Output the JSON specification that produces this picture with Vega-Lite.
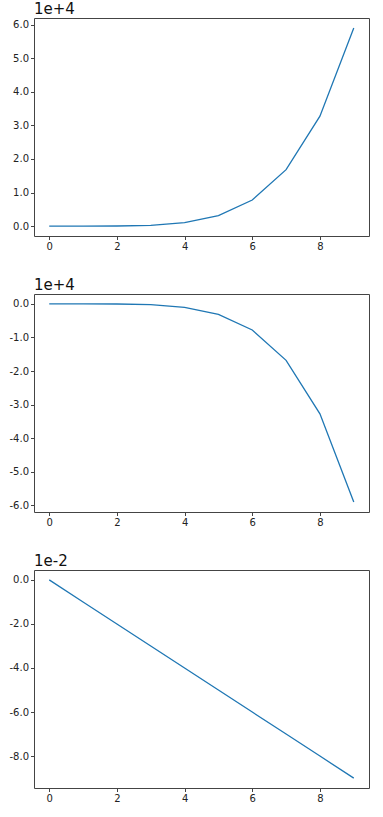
{
  "$schema": "https://vega.github.io/schema/vega-lite/v6.json",
  "padding": {"left": 8, "top": 1, "right": 5, "bottom": 5},
  "background": "white",
  "datasets": {
    "d": [
      {"x": 0, "p": 0, "n": 0, "l": 0},
      {"x": 1, "p": 1, "n": -1, "l": -0.01},
      {"x": 2, "p": 32, "n": -32, "l": -0.02},
      {"x": 3, "p": 243, "n": -243, "l": -0.03},
      {"x": 4, "p": 1024, "n": -1024, "l": -0.04},
      {"x": 5, "p": 3125, "n": -3125, "l": -0.05},
      {"x": 6, "p": 7776, "n": -7776, "l": -0.06},
      {"x": 7, "p": 16807, "n": -16807, "l": -0.07},
      {"x": 8, "p": 32768, "n": -32768, "l": -0.08},
      {"x": 9, "p": 59049, "n": -59049, "l": -0.09}
    ]
  },
  "columns": 1,
  "align": "none",
  "spacing": 25,
  "config": {
    "view": {"stroke": "#444", "strokeWidth": 1},
    "axis": {
      "grid": false,
      "domain": false,
      "tickColor": "#444",
      "tickSize": 3.5,
      "labelFont": "DejaVu Sans",
      "labelFontSize": 10,
      "labelColor": "#222",
      "labelPadding": 2,
      "title": null
    },
    "title": {
      "font": "DejaVu Sans",
      "fontSize": 15,
      "fontWeight": "normal",
      "color": "#111",
      "anchor": "start",
      "frame": "group",
      "offset": 1
    },
    "line": {"color": "#1f77b4", "strokeWidth": 1.3}
  },
  "concat": [
    {
      "width": 335,
      "height": 218,
      "title": "1e+4",
      "data": {"name": "d"},
      "mark": {"type": "line", "clip": true},
      "encoding": {
        "x": {"field": "x", "type": "quantitative", "scale": {"domain": [-0.45, 9.45], "nice": false, "zero": false}, "axis": {"values": [0, 2, 4, 6, 8], "format": "d"}},
        "y": {"field": "p", "type": "quantitative", "scale": {"domain": [-2952, 62001], "nice": false, "zero": false}, "axis": {"values": [0, 10000, 20000, 30000, 40000, 50000, 60000], "labelExpr": "replace(format(datum.value/10000, '.1f'), '\u2212', '-')"}}
      }
    },
    {
      "width": 335,
      "height": 218,
      "title": "1e+4",
      "data": {"name": "d"},
      "mark": {"type": "line", "clip": true},
      "encoding": {
        "x": {"field": "x", "type": "quantitative", "scale": {"domain": [-0.45, 9.45], "nice": false, "zero": false}, "axis": {"values": [0, 2, 4, 6, 8], "format": "d"}},
        "y": {"field": "n", "type": "quantitative", "scale": {"domain": [-62001, 2952], "nice": false, "zero": false}, "axis": {"values": [0, -10000, -20000, -30000, -40000, -50000, -60000], "labelExpr": "replace(format(datum.value/10000, '.1f'), '\u2212', '-')"}}
      }
    },
    {
      "width": 335,
      "height": 218,
      "title": "1e-2",
      "data": {"name": "d"},
      "mark": {"type": "line", "clip": true},
      "encoding": {
        "x": {"field": "x", "type": "quantitative", "scale": {"domain": [-0.45, 9.45], "nice": false, "zero": false}, "axis": {"values": [0, 2, 4, 6, 8], "format": "d"}},
        "y": {"field": "l", "type": "quantitative", "scale": {"domain": [-0.0945, 0.0045], "nice": false, "zero": false}, "axis": {"values": [0, -0.02, -0.04, -0.06, -0.08], "labelExpr": "replace(format(datum.value*100, '.1f'), '\u2212', '-')"}}
      }
    }
  ]
}
